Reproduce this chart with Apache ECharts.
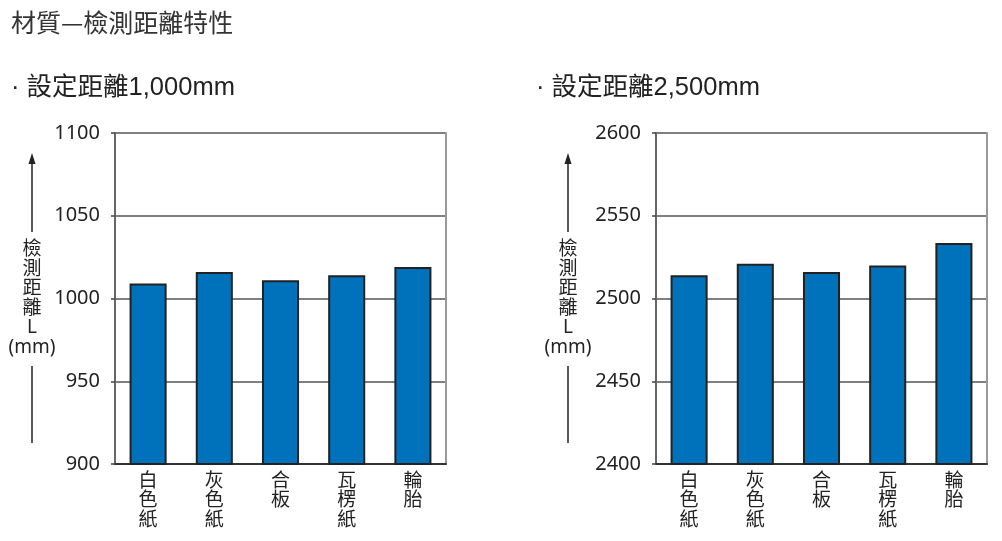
<!DOCTYPE html>
<html><head><meta charset="utf-8">
<script src="https://cdn.jsdelivr.net/npm/echarts@6/dist/echarts.min.js"></script>
<style>html,body{margin:0;padding:0;background:#fff}#c{width:1002px;height:541px}</style>
</head><body><div id="c"></div>
<script>
const categories = ['白色紙','灰色紙','合板','瓦楞紙','輪胎'];
const values1000 = [1009, 1016, 1011, 1014, 1019];
const values2500 = [2514, 2521, 2516, 2520, 2533.5];
const ticks1000 = {min: 900, max: 1100, interval: 50};
const ticks2500 = {min: 2400, max: 2600, interval: 50};
const mainTitle = '材質—檢測距離特性';
const subTitles = ['· 設定距離1,000mm', '· 設定距離2,500mm'];
const axisTitle = ['檢','測','距','離','L','(mm)'];

const CJK = '"Noto Sans CJK TC","Noto Sans",sans-serif';
const MIX = '"Noto Sans","Noto Sans CJK TC",sans-serif';
const SUB = '"Liberation Sans","Noto Sans CJK TC",sans-serif';
const chart = echarts.init(document.getElementById('c'));

const grids = [
  {left: 115, width: 331, top: 133, height: 331},
  {left: 656, width: 331, top: 133, height: 331}
];
function xAxis(i){
  return {type:'category', gridIndex:i, data:categories,
    axisLine:{show:true, lineStyle:{color:'#333', width:2}},
    axisTick:{show:false},
    axisLabel:{color:'#222', fontSize:19, fontFamily:CJK, lineHeight:19.5, margin:6,
      formatter: v => v.split('').join('\n')}
  };
}
function yAxis(i, t){
  return [{type:'value', gridIndex:i, min:t.min, max:t.max, interval:t.interval,
    axisLine:{show:true, lineStyle:{color:'#666', width:2}},
    axisTick:{show:true, length:4, lineStyle:{color:'#444', width:1.5}},
    splitLine:{show:true, lineStyle:{color:'#555', width:1.5}},
    axisLabel:{color:'#222', fontSize:20, fontFamily:MIX, margin:15, formatter: v => String(v)}
  },{type:'value', gridIndex:i, position:'right', min:t.min, max:t.max, interval:t.interval,
    axisLine:{show:true, lineStyle:{color:'#999', width:2}},
    axisTick:{show:false}, splitLine:{show:false}, axisLabel:{show:false}
  }];
}
function series(i, data){
  return {type:'bar', xAxisIndex:i, yAxisIndex:i*2, data:data, barWidth:'56%',
    itemStyle:{color:'#0071bb', borderColor:'#222', borderWidth:2}, silent:true};
}
function axisTitleGraphic(x){
  return [
    {type:'line', shape:{x1:x, y1:160, x2:x, y2:232}, style:{stroke:'#222', lineWidth:1.5}},
    {type:'polygon', shape:{points:[[x,153],[x-3.5,164],[x+3.5,164]]}, style:{fill:'#222'}},
    {type:'text', x:x, y:240, style:{text:axisTitle.join('\n'), fill:'#222', font:'19px '+MIX, lineHeight:19.5, align:'center', verticalAlign:'top'}},
    {type:'line', shape:{x1:x, y1:366, x2:x, y2:443}, style:{stroke:'#222', lineWidth:1.5}}
  ];
}
chart.setOption({
  animation:false,
  title:[
    {text:mainTitle, left:6, top:5, textStyle:{fontSize:25, fontWeight:'normal', color:'#333', fontFamily:CJK}},
    {text:subTitles[0], left:6, top:70, textStyle:{fontSize:25.5, fontWeight:'normal', color:'#222', fontFamily:SUB}},
    {text:subTitles[1], left:531, top:70, textStyle:{fontSize:25.5, fontWeight:'normal', color:'#222', fontFamily:SUB}}
  ],
  grid: grids,
  xAxis:[xAxis(0), xAxis(1)],
  yAxis:[...yAxis(0, ticks1000), ...yAxis(1, ticks2500)],
  series:[series(0, values1000), series(1, values2500)],
  graphic:[...axisTitleGraphic(32), ...axisTitleGraphic(568)]
});
</script></body></html>
